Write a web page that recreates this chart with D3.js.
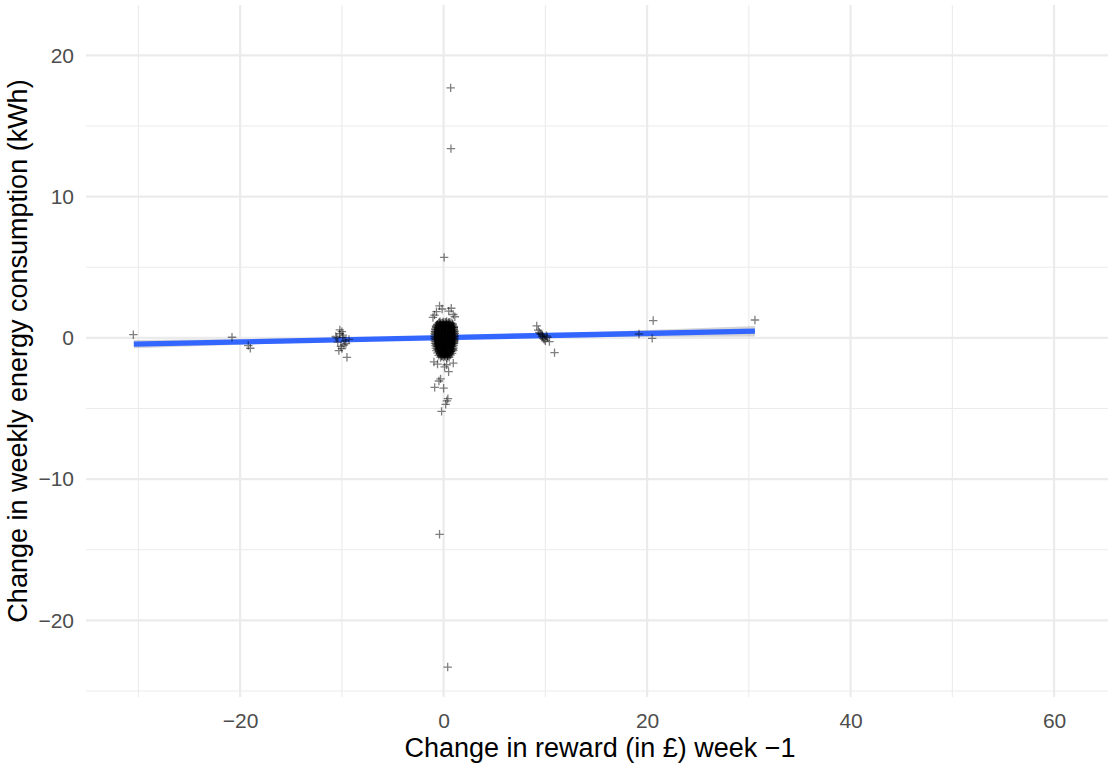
<!DOCTYPE html>
<html>
<head>
<meta charset="utf-8">
<script src="https://cdn.jsdelivr.net/npm/d3@7"></script>
<style>
  html, body { margin: 0; padding: 0; background: #ffffff; }
  svg { display: block; font-family: "Liberation Sans", Arial, sans-serif; }
</style>
</head>
<body>
<svg id="chart" width="1116" height="766"></svg>
<script>
// ---------------- data ----------------
const xMajorTicks = [-20, 0, 20, 40, 60];
const xMinorTicks = [-30, -10, 10, 30, 50];
const yMajorTicks = [-20, -10, 0, 10, 20];
const yMinorTicks = [-25, -15, -5, 5, 15];

const xTitle = "Change in reward (in £) week \u22121";
const yTitle = "Change in weekly energy consumption (kWh)";

// outlying points (reward change, energy change)
const outerX = [-30.5, -20.8, -19.2, -19.0,
  -10.2, -10.0, -9.5, -9.3, -10.6, -10.4, -10.1, -9.9, -9.8, -10.3, -10.5, -9.7, -10.0, -9.6, -10.2, -9.9,
  9.15, 10.9, 10.4, 9.7, 9.4, 9.6, 9.9, 10.1, 9.5, 9.8, 10.0, 10.2, 9.3, 9.7,
  19.2, 20.6, 20.5, 30.6,
  0.69, 0.72, 0.05, -0.4, 0.4,
  -0.46, -0.88, 0.0, 0.42, 0.2, -0.2, 0.32, 0.49, -0.3, 0.1, -0.6, 0.3, 0.95, -0.95,
  -0.4, -0.7, 0.75, -0.9, 0.95, 0.5, -0.15, 1.1, -1.05];
const outerY = [0.23, 0.05, -0.54, -0.73,
  0.57, 0.45, -1.37, -0.1, 0.1, -0.3, -0.6, 0.2, -0.5, -0.9, 0.0, -0.2, -0.75, -0.4, 0.3, 0.05,
  0.85, -1.04, -0.26, 0.09, 0.4, 0.25, -0.1, 0.15, 0.3, -0.05, -0.2, 0.05, 0.55, 0.2,
  0.28, 1.23, -0.03, 1.27,
  17.7, 13.4, 5.7, -13.9, -23.3,
  -3.05, -3.5, -3.56, -4.3, -4.7, -5.2, -4.45, -2.39, -2.9, -2.05, -1.85, -1.9, -1.78, -1.7,
  2.27, 1.86, 2.1, 1.62, 1.66, 1.9, 2.05, 1.5, 1.45];

// dense cluster around zero reward change (three overlapping groups of households)
const clusterX = [
  -0.35, -0.02, 0.30, 0.58,
  -0.60, -0.30, 0.01, 0.31, 0.62, 0.88,
  -0.75, -0.46, -0.14, 0.16, 0.44, 0.76, 1.00,
  -0.82, -0.51, -0.23, 0.09, 0.37, 0.69, 0.98,
  -0.86, -0.57, -0.25, 0.04, 0.35, 0.63, 0.94, 1.08,
  -0.88, -0.58, -0.28, 0.03, 0.33, 0.65, 0.93, 1.10,
  -0.89, -0.60, -0.29, 0.02, 0.34, 0.62, 0.95, 1.09,
  -0.87, -0.59, -0.27, 0.05, 0.32, 0.66, 0.92, 1.08,
  -0.86, -0.55, -0.26, 0.06, 0.36, 0.64, 0.96, 1.07,
  -0.84, -0.54, -0.24, 0.07, 0.35, 0.67, 0.94, 1.05,
  -0.80, -0.50, -0.20, 0.10, 0.40, 0.70, 0.99,
  -0.76, -0.46, -0.16, 0.13, 0.43, 0.72, 0.97,
  -0.70, -0.40, -0.11, 0.19, 0.48, 0.78, 0.95,
  -0.60, -0.31, -0.01, 0.28, 0.57, 0.84,
  -0.48, -0.18, 0.11, 0.40, 0.69,
  -0.30, 0.01, 0.31, 0.55];
const clusterY = [
  1.15, 1.13, 1.17, 1.12,
  0.98, 1.00, 0.96, 0.99, 0.97, 1.01,
  0.81, 0.83, 0.79, 0.82, 0.80, 0.78, 0.81,
  0.64, 0.62, 0.66, 0.63, 0.65, 0.61, 0.64,
  0.47, 0.45, 0.49, 0.46, 0.48, 0.44, 0.47, 0.46,
  0.30, 0.28, 0.32, 0.29, 0.31, 0.27, 0.30, 0.31,
  0.13, 0.11, 0.15, 0.12, 0.14, 0.10, 0.13, 0.12,
  -0.04, -0.06, -0.02, -0.05, -0.03, -0.07, -0.04, -0.05,
  -0.21, -0.23, -0.19, -0.22, -0.20, -0.24, -0.21, -0.20,
  -0.38, -0.40, -0.36, -0.39, -0.37, -0.41, -0.38, -0.37,
  -0.55, -0.57, -0.53, -0.56, -0.54, -0.58, -0.55,
  -0.72, -0.74, -0.70, -0.73, -0.71, -0.75, -0.72,
  -0.89, -0.91, -0.87, -0.90, -0.88, -0.92, -0.89,
  -1.06, -1.08, -1.04, -1.07, -1.05, -1.09,
  -1.23, -1.25, -1.21, -1.24, -1.22,
  -1.38, -1.36, -1.40, -1.37];

const clusterX2 = [
  -0.48, -0.17, 0.14, 0.45, 0.74,
  -0.68, -0.38, -0.07, 0.23, 0.53, 0.83,
  -0.67, -0.37, -0.08, 0.22, 0.52, 0.83, 0.99,
  -0.72, -0.42, -0.11, 0.19, 0.49, 0.79, 1.02,
  -0.74, -0.43, -0.12, 0.18, 0.49, 0.79, 1.03,
  -0.75, -0.44, -0.13, 0.17, 0.48, 0.78, 1.04,
  -0.73, -0.43, -0.12, 0.18, 0.48, 0.79, 1.02,
  -0.72, -0.41, -0.11, 0.20, 0.50, 0.80, 1.01,
  -0.70, -0.40, -0.09, 0.21, 0.51, 0.81, 1.00,
  -0.66, -0.35, -0.05, 0.25, 0.55, 0.84,
  -0.62, -0.31, -0.01, 0.28, 0.58, 0.86,
  -0.55, -0.26, 0.04, 0.34, 0.63, 0.88,
  -0.46, -0.16, 0.14, 0.43, 0.72,
  -0.33, -0.03, 0.26, 0.55,
  -0.15, 0.16, 0.42];
const clusterY2 = [
  1.06, 1.05, 1.08, 1.04, 1.07,
  0.89, 0.91, 0.88, 0.90, 0.87, 0.89,
  0.72, 0.74, 0.71, 0.73, 0.70, 0.72, 0.73,
  0.55, 0.53, 0.56, 0.54, 0.57, 0.55, 0.54,
  0.38, 0.36, 0.39, 0.37, 0.40, 0.38, 0.37,
  0.21, 0.19, 0.22, 0.20, 0.23, 0.21, 0.20,
  0.04, 0.02, 0.05, 0.03, 0.06, 0.04, 0.03,
  -0.13, -0.15, -0.12, -0.14, -0.11, -0.13, -0.14,
  -0.30, -0.32, -0.29, -0.31, -0.28, -0.30, -0.31,
  -0.47, -0.49, -0.46, -0.48, -0.45, -0.47,
  -0.64, -0.66, -0.63, -0.65, -0.62, -0.64,
  -0.81, -0.83, -0.80, -0.82, -0.79, -0.81,
  -0.98, -1.00, -0.97, -0.99, -0.96,
  -1.15, -1.17, -1.14, -1.16,
  -1.30, -1.32, -1.29];

const clusterX3 = [
  -0.41, -0.10, 0.21, 0.50,
  -0.61, -0.30, 0.01, 0.31, 0.61, 0.90,
  -0.74, -0.44, -0.13, 0.17, 0.47, 0.77, 1.01,
  -0.80, -0.49, -0.19, 0.12, 0.42, 0.72, 1.00,
  -0.83, -0.52, -0.21, 0.09, 0.40, 0.70, 0.99,
  -0.84, -0.53, -0.22, 0.08, 0.39, 0.69, 1.01,
  -0.83, -0.51, -0.20, 0.11, 0.41, 0.71, 1.00,
  -0.81, -0.50, -0.19, 0.12, 0.42, 0.73, 0.98,
  -0.78, -0.47, -0.16, 0.14, 0.45, 0.75, 0.99,
  -0.73, -0.42, -0.12, 0.18, 0.48, 0.79, 0.97,
  -0.67, -0.37, -0.07, 0.23, 0.53, 0.82,
  -0.59, -0.29, 0.01, 0.30, 0.60, 0.85,
  -0.49, -0.19, 0.11, 0.41, 0.70,
  -0.36, -0.06, 0.24, 0.53,
  -0.20, 0.10, 0.38];
const clusterY3 = [
  1.10, 1.08, 1.11, 1.09,
  0.93, 0.95, 0.92, 0.94, 0.91, 0.93,
  0.76, 0.78, 0.75, 0.77, 0.74, 0.76, 0.75,
  0.59, 0.61, 0.58, 0.60, 0.57, 0.59, 0.60,
  0.42, 0.44, 0.41, 0.43, 0.40, 0.42, 0.43,
  0.25, 0.27, 0.24, 0.26, 0.23, 0.25, 0.26,
  0.08, 0.10, 0.07, 0.09, 0.06, 0.08, 0.09,
  -0.09, -0.07, -0.10, -0.08, -0.11, -0.09, -0.08,
  -0.26, -0.24, -0.27, -0.25, -0.28, -0.26, -0.25,
  -0.43, -0.41, -0.44, -0.42, -0.45, -0.43, -0.42,
  -0.60, -0.58, -0.61, -0.59, -0.62, -0.60,
  -0.77, -0.75, -0.78, -0.76, -0.79, -0.77,
  -0.94, -0.92, -0.95, -0.93, -0.96,
  -1.11, -1.09, -1.12, -1.10,
  -1.27, -1.25, -1.28];

// linear fit with standard error band
const fitX  = [-30.45, -15, 0, 15, 30.6];
const fitY  = [-0.44, -0.206, 0.019, 0.245, 0.48];
const fitSE = [0.29, 0.16, 0.06, 0.18, 0.37];

// ---------------- chart ----------------
const svg = d3.select("#chart");
const panel = { left: 86, right: 1108, top: 5, bottom: 697 };

const x = d3.scaleLinear().domain([-35.15, 65.3]).range([panel.left, panel.right]);
const y = d3.scaleLinear().domain([-25.42, 23.57]).range([panel.bottom, panel.top]);

const grid = svg.append("g");
grid.selectAll(".xminor").data(xMinorTicks).join("line")
  .attr("x1", d => x(d)).attr("x2", d => x(d))
  .attr("y1", panel.top).attr("y2", panel.bottom)
  .attr("stroke", "#EBEBEB").attr("stroke-width", 1.1);
grid.selectAll(".yminor").data(yMinorTicks).join("line")
  .attr("y1", d => y(d)).attr("y2", d => y(d))
  .attr("x1", panel.left).attr("x2", panel.right)
  .attr("stroke", "#EBEBEB").attr("stroke-width", 1.1);
grid.selectAll(".xmajor").data(xMajorTicks).join("line")
  .attr("x1", d => x(d)).attr("x2", d => x(d))
  .attr("y1", panel.top).attr("y2", panel.bottom)
  .attr("stroke", "#EBEBEB").attr("stroke-width", 2.2);
grid.selectAll(".ymajor").data(yMajorTicks).join("line")
  .attr("y1", d => y(d)).attr("y2", d => y(d))
  .attr("x1", panel.left).attr("x2", panel.right)
  .attr("stroke", "#EBEBEB").attr("stroke-width", 2.2);

const fmt = d3.format("d");
const xAxis = svg.append("g")
  .attr("transform", `translate(0,${panel.bottom})`)
  .call(d3.axisBottom(x).tickValues(xMajorTicks).tickFormat(d => fmt(d)).tickSize(0).tickPadding(16));
const yAxis = svg.append("g")
  .attr("transform", `translate(${panel.left},0)`)
  .call(d3.axisLeft(y).tickValues(yMajorTicks).tickFormat(d => fmt(d)).tickSize(0).tickPadding(12));
[xAxis, yAxis].forEach(a => {
  a.select(".domain").remove();
  a.selectAll("text")
    .attr("fill", "#4D4D4D")
    .style("font-size", "21px")
    .style("font-family", "'Liberation Sans', Arial, sans-serif");
});

// smoothing band + line
const fitData = fitX.map((d, i) => ({ x: d, y: fitY[i], se: fitSE[i] }));
svg.append("path")
  .datum(fitData)
  .attr("d", d3.area().x(d => x(d.x)).y0(d => y(d.y - d.se)).y1(d => y(d.y + d.se)))
  .attr("fill", "#999999").attr("fill-opacity", 0.4);
svg.append("path")
  .datum(fitData)
  .attr("d", d3.line().x(d => x(d.x)).y(d => y(d.y)))
  .attr("fill", "none").attr("stroke", "#3366FF").attr("stroke-width", 5.4);

// points
const pairs = (xs, ys) => xs.map((d, i) => [d, ys[i]]);
const pts = pairs(clusterX, clusterY)
  .concat(pairs(clusterX2, clusterY2))
  .concat(pairs(clusterX3, clusterY3))
  .concat(pairs(outerX, outerY));
svg.append("g").selectAll("path").data(pts).join("path")
  .attr("transform", d => `translate(${x(d[0])},${y(d[1])})`)
  .attr("d", "M-4.2,0H4.2M0,-4.2V4.2")
  .attr("stroke", "#000000").attr("stroke-opacity", 0.5).attr("stroke-width", 1.3)
  .attr("fill", "none");

// titles
svg.append("text")
  .attr("x", (panel.left + panel.right) / 2 + 3)
  .attr("y", 757)
  .attr("text-anchor", "middle")
  .style("font-size", "27px")
  .attr("fill", "#000")
  .text(xTitle);
svg.append("text")
  .attr("transform", `translate(27,${(panel.top + panel.bottom) / 2}) rotate(-90)`)
  .attr("text-anchor", "middle")
  .style("font-size", "27px")
  .attr("fill", "#000")
  .text(yTitle);
</script>
</body>
</html>
